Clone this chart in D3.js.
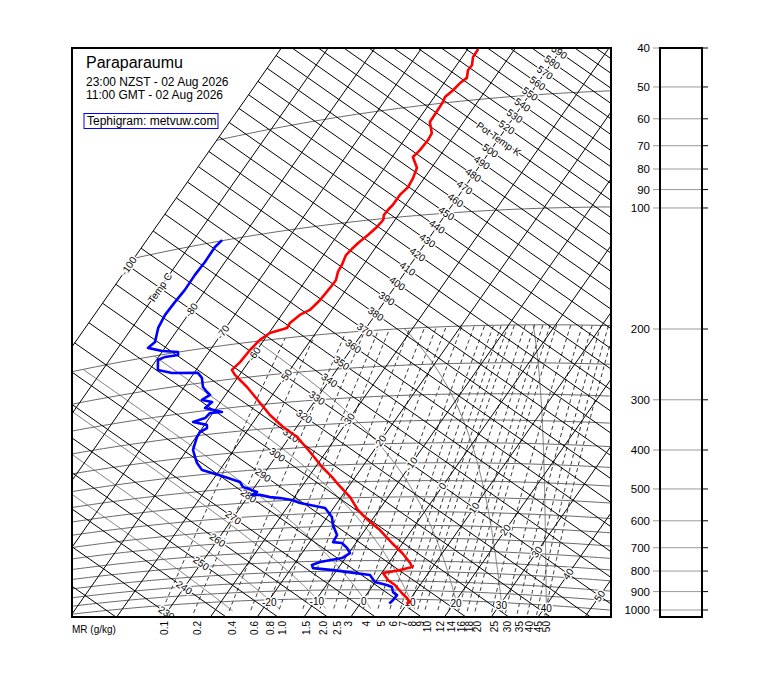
<!DOCTYPE html>
<html><head><meta charset="utf-8">
<script src="https://cdn.jsdelivr.net/npm/d3@7"></script>
<style>body{margin:0;background:#fff}svg{display:block}text{font-family:"Liberation Sans",Arial,Helvetica,sans-serif}</style>
</head><body>
<script>
// ---------------- data ----------------
const stationName = "Paraparaumu";
const localTime = "23:00 NZST - 02 Aug 2026";
const gmtTime = "11:00 GMT - 02 Aug 2026";
const creditText = "Tephigram: metvuw.com";

// temperature profile (hPa, °C)
const tempPressure = [36.3,38.1,40.1,41.3,43.3,44.6,46.4,48.2,49.7,52.0,55.9,60.1,62.6,66.4,69.0,74.1,78.9,83.2,87.0,92.2,95.0,97.8,100.9,105.0,109.9,114.9,118.1,123.0,130.6,136.1,143.1,149.9,160.8,170.1,174.4,182.3,187.8,191.5,198.7,210.4,225.7,235.7,244.0,265.9,296.9,322.0,349.4,374.1,412.2,439.3,453.6,483.0,501.8,547.7,592.2,629.4,668.2,721.4,764.9,810.6,829.5,845.4,860.5,896.6,922.7,965.9,994,1017,1028];
const tempValues = [-57.8,-57.7,-56.7,-56.8,-55.9,-56.6,-57.0,-57.7,-57.4,-57.3,-57.2,-55.1,-54.9,-55.1,-55.6,-53.1,-52.4,-52.1,-52.7,-52.7,-53.0,-53.1,-52.5,-52.8,-53.5,-54.4,-54.8,-55.2,-54.6,-54.4,-53.6,-53.7,-54.0,-54.7,-56.1,-57.0,-56.9,-59.8,-60.9,-61.5,-61.8,-62.4,-61.0,-56.6,-51.4,-47.5,-42.9,-38.4,-33.4,-30.2,-28.6,-25.0,-23.0,-18.1,-14.5,-10.85,-6.8,-2.3,1.4,4.6,5.6,3.5,0.3,2.4,4.65,7.3,9.15,10.4,9.9];

// dew point profile (hPa, °C)
const dewPressure = [99.6,103.4,113.0,121.8,133.1,142.6,153.7,166.5,182.1,188.0,195.2,199.7,203.8,203.6,206.2,220.2,228.0,233.6,242.1,257.2,266.4,272.3,279.3,285.5,295.1,306.5,305.7,314.6,319.5,329.1,335.8,342.7,353.0,366.5,382.5,400.8,416.7,436.9,448.0,463.3,481.5,497.4,509.3,516.5,524.8,526.4,535.8,541.0,549.3,561.1,582.1,615.0,645.2,686.0,714.9,719.4,741.9,764.5,787.1,803.8,817.1,832.8,844.8,855.7,870.6,907.3,922.7,933.7,961.6,978,1007,1028];
const dewValues = [-83.9,-84.4,-84.3,-84.5,-84.4,-84.7,-84.9,-84.4,-83.0,-83.6,-80.1,-76.6,-76.1,-78.6,-79.65,-78.2,-74.7,-69.2,-67.6,-66.0,-64.4,-63.3,-64.3,-61.8,-62.4,-58.2,-60.6,-60.9,-62.9,-59.5,-59.0,-59.9,-59.8,-59.3,-58.7,-57.2,-55.9,-53.8,-51.2,-47.8,-43.9,-42.5,-40.1,-38.75,-39.4,-37.7,-35.2,-32.9,-30.1,-27.9,-21.8,-19.0,-17.6,-15.2,-15.0,-13.0,-11.1,-9.75,-10.7,-14.8,-16.1,-15.4,-10.8,-7.3,-2.2,-0.1,2.9,4.3,5.3,6.6,6.5,6.2];

// diagram grid values
const isothermValues = [-100,-90,-80,-70,-60,-50,-40,-30,-20,-10,0,10,20,30,40,50];
const thetaValues = [220,230,240,250,260,270,280,290,300,310,320,330,340,350,360,370,380,390,400,410,420,430,440,450,460,470,480,490,500,510,520,530,540,550,560,570,580,590,600,610];
const isobarLevels = [1000,950,900,850,800,750,700,650,600,550,500,450,400,350,300,250,200,100,50];
const mixingRatios = [0.1,0.2,0.4,0.6,0.8,1.0,1.5,2.0,2.5,3,4,5,6,7,8,9,10,12,14,16,18,20,25,30,35,40,45,50];
const mixingLabels = ["0.1","0.2","0.4","0.6","0.8","1.0","1.5","2.0","2.5","3","4","5","6","7","8","9","10","12","14","16","18","20","25","30","35","40","45","50"];
const moistValues = [-30,-20,-10,0,10,20,30,40];
const moistLabelValues = [-20,-10,0,10,20,30,40];
const thetaLabelValues = [230,240,250,260,270,280,290,300,310,320,330,340,350,360,370,380,390,400,410,420,430,440,450,460,470,480,490,500,510,520,530,540,550,560,570,580,590,600];
const tempLabelValues = [-100,-90,-80,-70,-60,-50,-30,-20,-10,0,10,20,30,40,50];
const pressureTicks = [40,50,60,70,80,90,100,200,300,400,500,600,700,800,900,1000];

// ---------------- layout ----------------
const W = 760, H = 690;
const plot = {x:72, y:48, w:539, h:569};
const KAPPA = 1/3.5;
const PHI = Math.atan2(2.2, 3.14);
const origin = [317, 398];           // position of T=-40 C, theta=330 K
const tAxis = d3.scaleLinear().domain([-40, 0]).range([0, 40*Math.hypot(3.14, 2.2)]);
const thAxis = d3.scaleLinear().domain([Math.log(330), Math.log(330)+1]).range([0, 726.9]);

function projTTh(T, th){
  const u = tAxis(T), v = thAxis(Math.log(th));
  return [origin[0] + u*Math.cos(PHI) + v*Math.sin(PHI),
          origin[1] + u*Math.sin(PHI) - v*Math.cos(PHI)];
}
function proj(T, p){ return projTTh(T, (T+273.15)*Math.pow(1000/p, KAPPA)); }
function esat(T){ return 6.112*Math.exp(17.67*T/(T+243.5)); }
function rsat(T,p){ const e = esat(T); return 0.622*e/(p-e); }
function tdFromMR(w, p){ const e = p*(w/1000)/(0.622 + w/1000); const l = Math.log(e/6.112); return 243.5*l/(17.67-l); }
function moistLapse(T, p){
  const Rd=287.04, cpd=1005.7, Lv=2.501e6, eps=0.622;
  const Tk = T+273.15, rs = rsat(T,p);
  return ((Rd*Tk + Lv*rs)/(cpd + Lv*Lv*rs*eps/(Rd*Tk*Tk)))/p;
}
function moistPath(tw){
  const up = [], down = [];
  let T = tw;
  for (let p = 1000; p >= 200; p -= 2){
    up.push([T,p]);
    const dp = -2;
    const k1 = moistLapse(T,p), k2 = moistLapse(T+k1*dp, p+dp);
    T += 0.5*(k1+k2)*dp;
  }
  T = tw;
  for (let p = 1000; p <= 1060; p += 2){
    down.push([T,p]);
    const dp = 2;
    const k1 = moistLapse(T,p), k2 = moistLapse(T+k1*dp, p+dp);
    T += 0.5*(k1+k2)*dp;
  }
  return down.reverse().concat(up.slice(1));
}

const svg = d3.select("body").append("svg").attr("width", W).attr("height", H);
svg.append("rect").attr("width", W).attr("height", H).attr("fill", "#fff");
svg.append("defs").append("clipPath").attr("id","clip").append("rect")
  .attr("x", plot.x).attr("y", plot.y).attr("width", plot.w).attr("height", plot.h);
const g = svg.append("g").attr("clip-path","url(#clip)");
const line = d3.line();

// mixing ratio lines (dashed)
g.append("g").selectAll("path").data(mixingRatios).join("path")
  .attr("d", w => line(d3.range(1060, 199, -10).map(p => proj(tdFromMR(w,p), p))))
  .attr("fill","none").attr("stroke","#000").attr("stroke-width",0.8).attr("stroke-dasharray","4,3");

// saturated adiabats
g.append("g").selectAll("path").data(moistValues).join("path")
  .attr("d", tw => line(moistPath(tw).map(d => proj(d[0], d[1]))))
  .attr("fill","none").attr("stroke","#555").attr("stroke-width",0.8);

// isobars
g.append("g").selectAll("path").data(isobarLevels).join("path")
  .attr("d", p => line(d3.range(-100, 80.1, 2).map(T => proj(T, p))))
  .attr("fill","none").attr("stroke","#6a6a6a").attr("stroke-width",1);

// isotherms
g.append("g").selectAll("path").data(isothermValues).join("path")
  .attr("d", T => line([projTTh(T, 120), projTTh(T, 900)]))
  .attr("fill","none").attr("stroke","#000").attr("stroke-width",1);

// dry adiabats
g.append("g").selectAll("path").data(thetaValues).join("path")
  .attr("d", th => line([projTTh(-100, th), projTTh(90, th)]))
  .attr("fill","none").attr("stroke","#000").attr("stroke-width",1);

// labels
const lab = g.append("g").attr("font-size", 10).attr("fill","#000")
  .attr("stroke","#fff").attr("stroke-width",3).attr("paint-order","stroke").attr("stroke-linejoin","round");
const rotT = -(90 - PHI*180/Math.PI);
const rotTh = PHI*180/Math.PI;
lab.selectAll("text.t").data(tempLabelValues).join("text").attr("class","t")
  .attr("transform", T => { const q = projTTh(T, 330); return `translate(${q[0]},${q[1]}) rotate(${rotT})`; })
  .attr("text-anchor","middle").attr("dy","0.35em")
  .text(T => T === -90 ? "Temp C" : String(T));
lab.selectAll("text.th").data(thetaLabelValues).join("text").attr("class","th")
  .attr("transform", th => { const q = projTTh(-40, th); return `translate(${q[0]},${q[1]}) rotate(${rotTh})`; })
  .attr("text-anchor","middle").attr("dy","0.35em")
  .text(th => th === 510 ? "Pot Temp K" : String(th));
lab.selectAll("text.m").data(moistLabelValues).join("text").attr("class","m")
  .attr("x", tw => proj(tw, 1000)[0]).attr("y", tw => proj(tw, 1000)[1] + 3)
  .attr("text-anchor","middle").attr("dy","0.35em")
  .text(tw => String(tw));

// profiles
const prof = g.append("g").attr("fill","none").attr("stroke-width",2.6).attr("stroke-linejoin","round");
prof.append("path").attr("stroke","#0000ff")
  .attr("d", line(dewPressure.map((p,i) => proj(dewValues[i], p))));
prof.append("path").attr("stroke","#ff0000")
  .attr("d", line(tempPressure.map((p,i) => proj(tempValues[i], p))));

// frame
svg.append("rect").attr("x", plot.x).attr("y", plot.y).attr("width", plot.w).attr("height", plot.h)
  .attr("fill","none").attr("stroke","#000").attr("stroke-width",2);

// mixing ratio labels
svg.append("text").attr("x", 72).attr("y", 633).attr("font-size", 10).text("MR (g/kg)");
svg.append("g").selectAll("text").data(mixingRatios).join("text")
  .attr("transform", (w,i) => `translate(${proj(tdFromMR(w,1000),1000)[0]},621) rotate(-90)`)
  .attr("text-anchor","end").attr("dy","0.35em").attr("font-size", 10)
  .text((w,i) => mixingLabels[i]);

// title block
const tb = svg.append("g");
tb.append("rect").attr("x",84).attr("y",52).attr("width",146).attr("height",50).attr("fill","#fff");
tb.append("text").attr("x",86).attr("y",68).attr("font-size",16).text(stationName);
tb.append("text").attr("x",86).attr("y",86).attr("font-size",12).text(localTime);
tb.append("text").attr("x",86).attr("y",99).attr("font-size",12).text(gmtTime);
tb.append("rect").attr("x",84).attr("y",113.5).attr("width",134).attr("height",15)
  .attr("fill","#fff").attr("stroke","#0000ff").attr("stroke-width",1);
tb.append("text").attr("x",87).attr("y",125).attr("font-size",12).text(creditText);

// right pressure panel
const py = d3.scaleLog().domain([40, 1000]).range([48, 610]);
const rp = svg.append("g");
rp.selectAll("line.g").data(pressureTicks).join("line").attr("class","g")
  .attr("x1",653).attr("x2",702).attr("y1", p => py(p)).attr("y2", p => py(p))
  .attr("stroke","#9a9a9a").attr("stroke-width",1);
rp.selectAll("line.k").data(pressureTicks).join("line").attr("class","k")
  .attr("x1",702).attr("x2",708).attr("y1", p => py(p)).attr("y2", p => py(p))
  .attr("stroke","#000").attr("stroke-width",1);
rp.selectAll("text").data(pressureTicks).join("text")
  .attr("x",650).attr("y", p => py(p)).attr("dy","0.35em").attr("text-anchor","end")
  .attr("font-size",11.5).text(p => String(p));
rp.append("rect").attr("x",660).attr("y",48).attr("width",42).attr("height",569)
  .attr("fill","none").attr("stroke","#000").attr("stroke-width",2);
</script>
</body></html>
